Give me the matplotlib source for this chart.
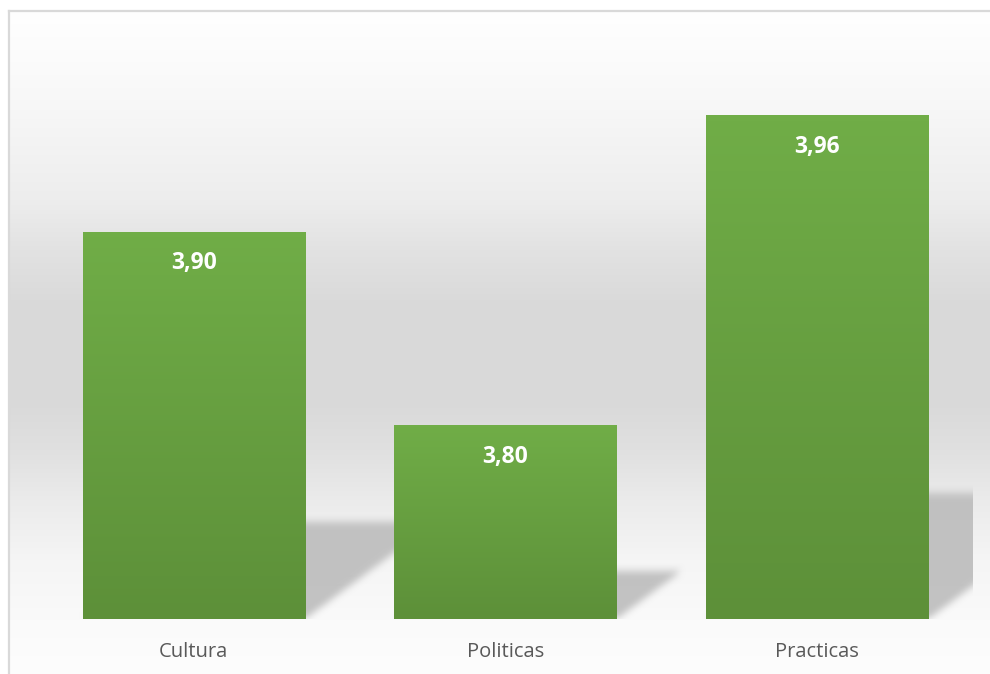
import numpy as np
import matplotlib
matplotlib.use("Agg")
import matplotlib.pyplot as plt
from matplotlib.colors import LinearSegmentedColormap, to_rgb
from matplotlib.lines import Line2D

categories = ["Cultura", "Politicas", "Practicas"]
values = [3.90, 3.80, 3.96]
y_min, y_max = 3.70, 4.00

W_PX, H_PX = 990, 674
fig = plt.figure(figsize=(W_PX / 100, H_PX / 100), dpi=100)

# ---- chart-area background gradient ----
bg = fig.add_axes([0, 0, 1, 1], zorder=-10)
bg.set_xlim(0, W_PX)
bg.set_ylim(H_PX, 0)
bg.axis("off")
stops_y = [11, 100, 200, 250, 300, 400, 450, 500, 560, 620, 674]
stops_c = [255, 248, 237, 226, 218, 217, 224, 235, 245, 250, 253]
rows = np.arange(11, H_PX)
vals = np.interp(rows, stops_y, stops_c) / 255.0
grad = np.repeat(vals[:, None], 2, axis=1)
img = np.dstack([grad, grad, grad])
bg.imshow(img, extent=(9.5, W_PX, H_PX, 11), aspect="auto", interpolation="bilinear")
border_c = "#d9d9d9"
fig.add_artist(Line2D([9 / W_PX, 9 / W_PX], [0, 1 - 10.5 / H_PX], color=border_c, lw=1.6,
                      transform=fig.transFigure))
fig.add_artist(Line2D([9 / W_PX, 1], [1 - 10.5 / H_PX, 1 - 10.5 / H_PX], color=border_c, lw=1.6,
                      transform=fig.transFigure))

# ---- main axes ----
ax_l, ax_b, ax_w, ax_h = 38 / W_PX, 55 / H_PX, 935 / W_PX, 580.5 / H_PX
ax = fig.add_axes([ax_l, ax_b, ax_w, ax_h])
ax.patch.set_visible(False)
x = np.arange(len(categories))
bar_w = 0.713
heights = [v - y_min for v in values]
bars = ax.bar(x, heights, bottom=y_min, width=bar_w, color="#70ad47", zorder=2)

# gradient fill on each bar
cmap = LinearSegmentedColormap.from_list("g", ["#5d9039", "#70ad47"])
for b in bars:
    x0, y0 = b.get_x(), b.get_y()
    ww, hh = b.get_width(), b.get_height()
    gimg = np.linspace(0, 1, 64)[:, None]
    ax.imshow(gimg, cmap=cmap, extent=(x0, x0 + ww, y0, y0 + hh), origin="lower",
              aspect="auto", zorder=3, interpolation="bilinear")

ax.set_xlim(-0.5, len(categories) - 0.5)
ax.set_ylim(y_min, y_max)

# ---- perspective shadows (computed from bar geometry) ----
Wa, Ha = int(round(ax_w * W_PX)), int(round(ax_h * H_PX))
pad = 60
PX, PY = np.meshgrid(np.arange(Wa + pad) + 0.5, np.arange(Ha) + 0.5)
mask = np.zeros_like(PX)
xr = (len(categories))
k = 1.35
for b in bars:
    bx0 = (b.get_x() + 0.5) / xr * Wa
    bx1 = (b.get_x() + b.get_width() + 0.5) / xr * Wa
    hb = b.get_height() / (y_max - y_min) * Ha
    hs = 0.25 * hb
    cond = (PY <= hs) & (PX >= bx0 + PY * k) & (PX <= bx1 + PY * k)
    mask = np.maximum(mask, cond.astype(float))


def box_blur(a, r, axis):
    kern = np.ones(2 * r + 1) / (2 * r + 1)
    return np.apply_along_axis(lambda m: np.convolve(m, kern, mode="same"), axis, a)


for _ in range(2):
    mask = box_blur(mask, 4, 0)
    mask = box_blur(mask, 3, 1)
mask = mask[:, :Wa]
sc = to_rgb("#bfbfbf")
shadow = np.zeros((Ha, Wa, 4))
shadow[..., 0], shadow[..., 1], shadow[..., 2] = sc
shadow[..., 3] = mask * 0.95
ax.imshow(shadow, extent=(-0.5, len(categories) - 0.5, y_min, y_max), origin="lower",
          aspect="auto", zorder=1, interpolation="bilinear")
ax.set_xlim(-0.5, len(categories) - 0.5)
ax.set_ylim(y_min, y_max)

# ---- labels ----
for xi, v in zip(x, values):
    ax.annotate(f"{v:.2f}".replace(".", ","), xy=(xi, v), xytext=(0, -31),
                textcoords="offset pixels", ha="center", va="center", color="white",
                fontweight="bold", fontsize=16.5, family="Open Sans", zorder=5)

ax.set_xticks(x, categories)
ax.tick_params(axis="x", length=0, pad=16.5, labelsize=14.5, labelcolor="#595959")
for lbl in ax.get_xticklabels():
    lbl.set_family("Open Sans")
ax.set_yticks([])
for s in ax.spines.values():
    s.set_visible(False)

fig.savefig("out.png", dpi=100)
